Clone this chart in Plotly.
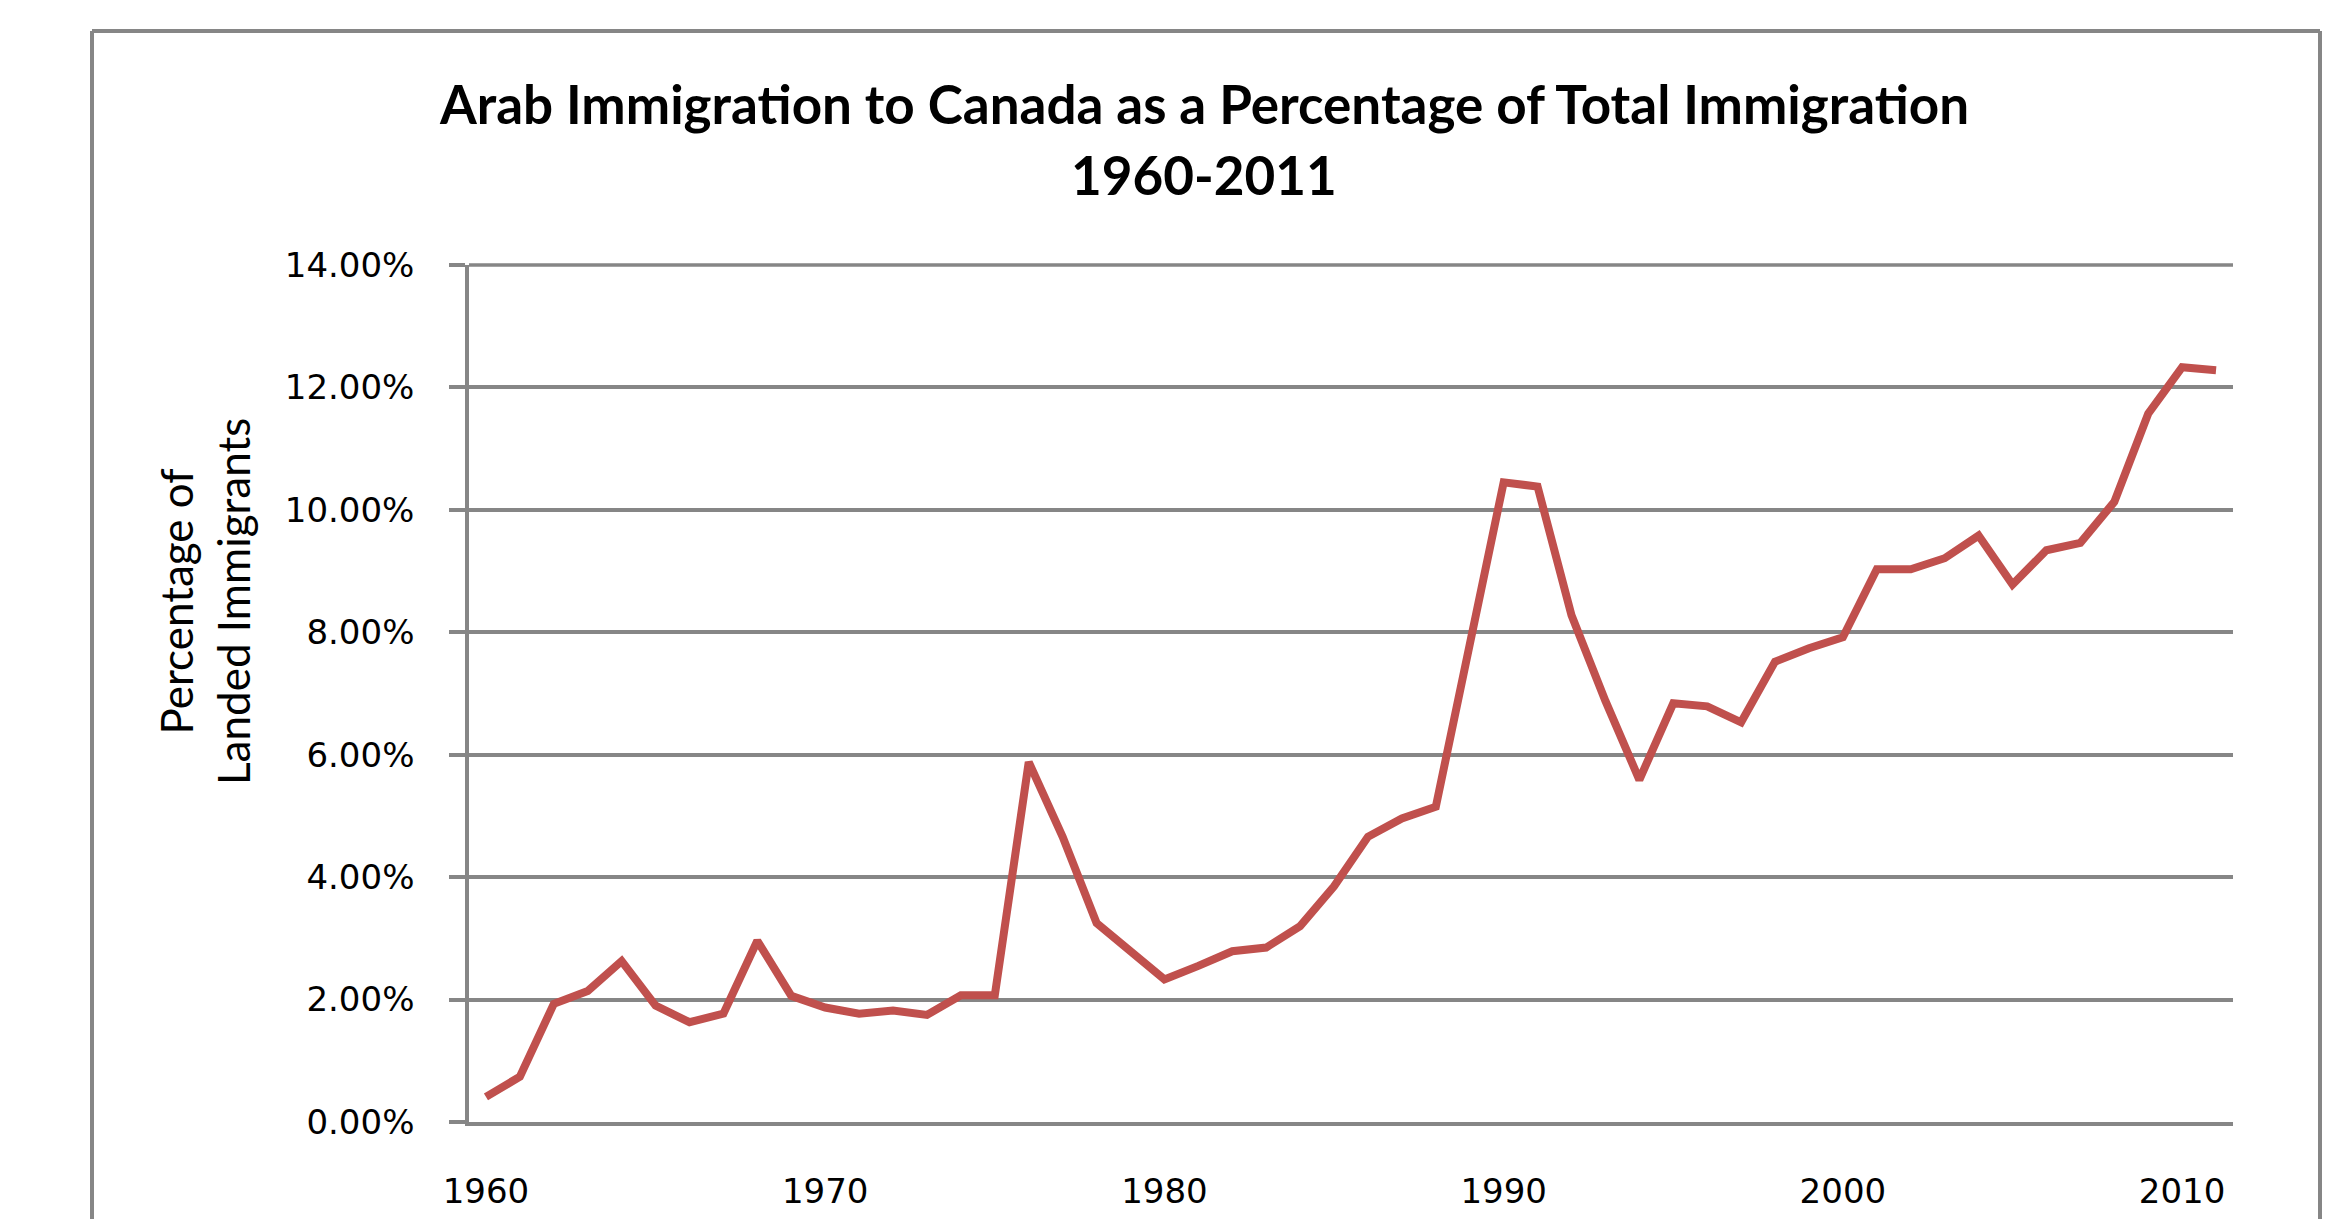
import plotly.graph_objects as go

# data
years = list(range(1960, 2012))
arab_pct = [
    0.41, 0.74, 1.93, 2.14, 2.63, 1.90, 1.63, 1.77, 2.96, 2.06,   # 1960-69
    1.87, 1.77, 1.82, 1.75, 2.07, 2.07, 5.88, 4.66, 3.25, 2.80,   # 1970-79
    2.33, 2.55, 2.79, 2.85, 3.20, 3.85, 4.66, 4.96, 5.15, 7.80,   # 1980-89
    10.45, 10.38, 8.28, 6.88, 5.59, 6.84, 6.79, 6.53, 7.52, 7.74,  # 1990-99
    7.92, 9.03, 9.03, 9.21, 9.58, 8.78, 9.34, 9.46, 10.13, 11.57,  # 2000-09
    12.33, 12.28,                                                  # 2010-11
]
x_ticks = [1960, 1970, 1980, 1990, 2000, 2010]
y_ticks = [0, 2, 4, 6, 8, 10, 12, 14]
y_ticktext = ["0.00%", "2.00%", "4.00%", "6.00%", "8.00%",
              "10.00%", "12.00%", "14.00%"]

title_line1 = "Arab Immigration to Canada as a Percentage of Total Immigration"
title_line2 = "1960-2011"
y_title = "Percentage of<br>Landed Immigrants"

# page body has an 8px margin, so everything is shifted by that
OFF = 8
W, H = 2336 - OFF, 1219 - OFF
# plot area in screen pixels
L, R, T, B = 469, 2233, 265, 1122
grid_col = "#868686"


def px_x(px):
    return (px - L) / (R - L)


def px_y(py):
    return (B - py) / (B - T)


fig = go.Figure()
fig.add_trace(go.Scatter(
    x=years, y=arab_pct, mode="lines",
    line=dict(color="#C0504D", width=8),
    hoverinfo="x+y",
))

fig.update_layout(
    width=W, height=H,
    margin=dict(l=L - OFF, r=W - (R - OFF), t=T - OFF, b=H - (B - OFF),
                autoexpand=False),
    paper_bgcolor="white", plot_bgcolor="white",
    showlegend=False,
    font=dict(family="DejaVu Sans", color="black"),
)

fig.update_xaxes(
    range=[1959.5, 2011.5],
    tickvals=x_ticks,
    showgrid=False, zeroline=False, automargin=False,
    showline=True, linecolor=grid_col, linewidth=3.5,
    ticks="", ticklabelstandoff=36,
    tickfont=dict(family="DejaVu Sans", size=34),
)
fig.update_yaxes(
    range=[0, 14],
    tickvals=y_ticks, ticktext=y_ticktext,
    showgrid=True, gridcolor=grid_col, gridwidth=3.5,
    zeroline=False, automargin=False,
    showline=True, linecolor=grid_col, linewidth=3.5,
    ticks="outside", ticklen=16, tickcolor=grid_col, tickwidth=3.5,
    ticklabelstandoff=28,
    tickfont=dict(family="DejaVu Sans", size=34),
)

# top gridline at 14% (top of the range), drawn unclipped in paper coords
fig.add_shape(type="line", xref="paper", yref="paper", x0=0, x1=1,
              y0=1, y1=1, layer="below",
              line=dict(color=grid_col, width=3.5))

# outer chart frame (bottom edge is cut off in the original)
frame = dict(type="line", xref="paper", yref="paper",
             line=dict(color=grid_col, width=4))
fig.add_shape(**frame, x0=px_x(92), x1=px_x(2320), y0=px_y(31), y1=px_y(31))
fig.add_shape(**frame, x0=px_x(92), x1=px_x(92), y0=px_y(31), y1=px_y(1300))
fig.add_shape(**frame, x0=px_x(2320), x1=px_x(2320), y0=px_y(31), y1=px_y(1300))

# title, two lines
tfont = dict(family="Lato", size=53, color="black", weight="bold")
fig.add_annotation(text=title_line1, xref="paper", yref="paper",
                   x=px_x(1204), y=px_y(104), showarrow=False,
                   xanchor="center", yanchor="middle", font=tfont)
fig.add_annotation(text=title_line2, xref="paper", yref="paper",
                   x=px_x(1204), y=px_y(174), showarrow=False,
                   xanchor="center", yanchor="middle", font=tfont)

# y axis title
fig.add_annotation(text=y_title, xref="paper", yref="paper",
                   x=px_x(204), y=px_y(602), showarrow=False,
                   textangle=-90, xanchor="center", yanchor="middle",
                   font=dict(family="Lato", size=44, color="black"))

fig.write_html("out.html")
